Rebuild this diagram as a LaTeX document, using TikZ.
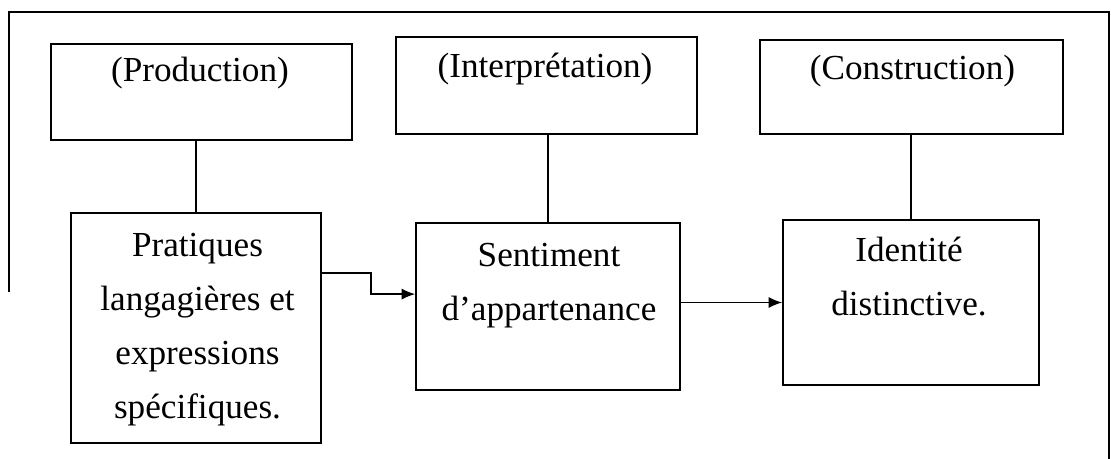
\documentclass[tikz,border=0pt]{standalone}
\usepackage{fontspec}
\setmainfont{Liberation Serif}
\usetikzlibrary{arrows.meta}
\usetikzlibrary{positioning}

\begin{document}
\begin{tikzpicture}[
    x=0.025cm, y=-0.025cm,
    line width=1.1pt,
    font=\fontsize{25}{38.3}\selectfont
]
\tikzset{
    box/.style = {rectangle, draw=black, inner sep=0pt},
    lbl/.style = {align=center, inner sep=0pt, anchor=base},
    link/.style = {-},
    arr/.style = {-{Latex[length=3.4mm,width=2.8mm]}}
}
\useasboundingbox (0,0) rectangle (1111,459);
% frame
\draw (9,292) |- (1109,12) -- (1109,459);
% top row
\node[box, minimum width=7.525cm, minimum height=2.4cm]   at (201.5,92)  (prod) {};
\node[box, minimum width=7.525cm, minimum height=2.425cm] at (546.5,85.5) (inter) {};
\node[box, minimum width=7.575cm, minimum height=2.35cm]  at (911.5,87)  (cons) {};
\node[lbl] at (200,82)   (prodt)  {(Production)};
\node[lbl] at (545,78)   (intert) {(Interprétation)};
\node[lbl] at (912.5,80) (const)  {(Construction)};
% bottom row (base = last line)
\node[box, minimum width=6.25cm, minimum height=5.75cm]  at (196,328)   (prat) {};
\node[box, minimum width=6.6cm,  minimum height=4.175cm] at (548,306.5) (sent) {};
\node[box, minimum width=6.4cm,  minimum height=4.125cm] at (911,302.5) (iden) {};
\node[lbl] at (197.5,418) (pratt) {Pratiques\\langagières et\\expressions\\spécifiques.};
\node[lbl] at (549,320)   (sentt) {Sentiment\\d’appartenance};
\node[lbl] at (909,315)   (ident) {Identité\\distinctive.};
% links
\draw[link] (prat.north) -- (prat.north |- prod.south);
\draw[link] (inter.south -| sent.north) -- (sent.north);
\draw[link] (cons.south -| iden.north) -- (iden.north);
\draw[arr] (prat.east) ++(0,-55) -- ++(49,0) |- ([yshift=0.31cm]sent.west);
\draw[arr] (iden.west -| sent.east) -- (iden.west);
\end{tikzpicture}
\end{document}
